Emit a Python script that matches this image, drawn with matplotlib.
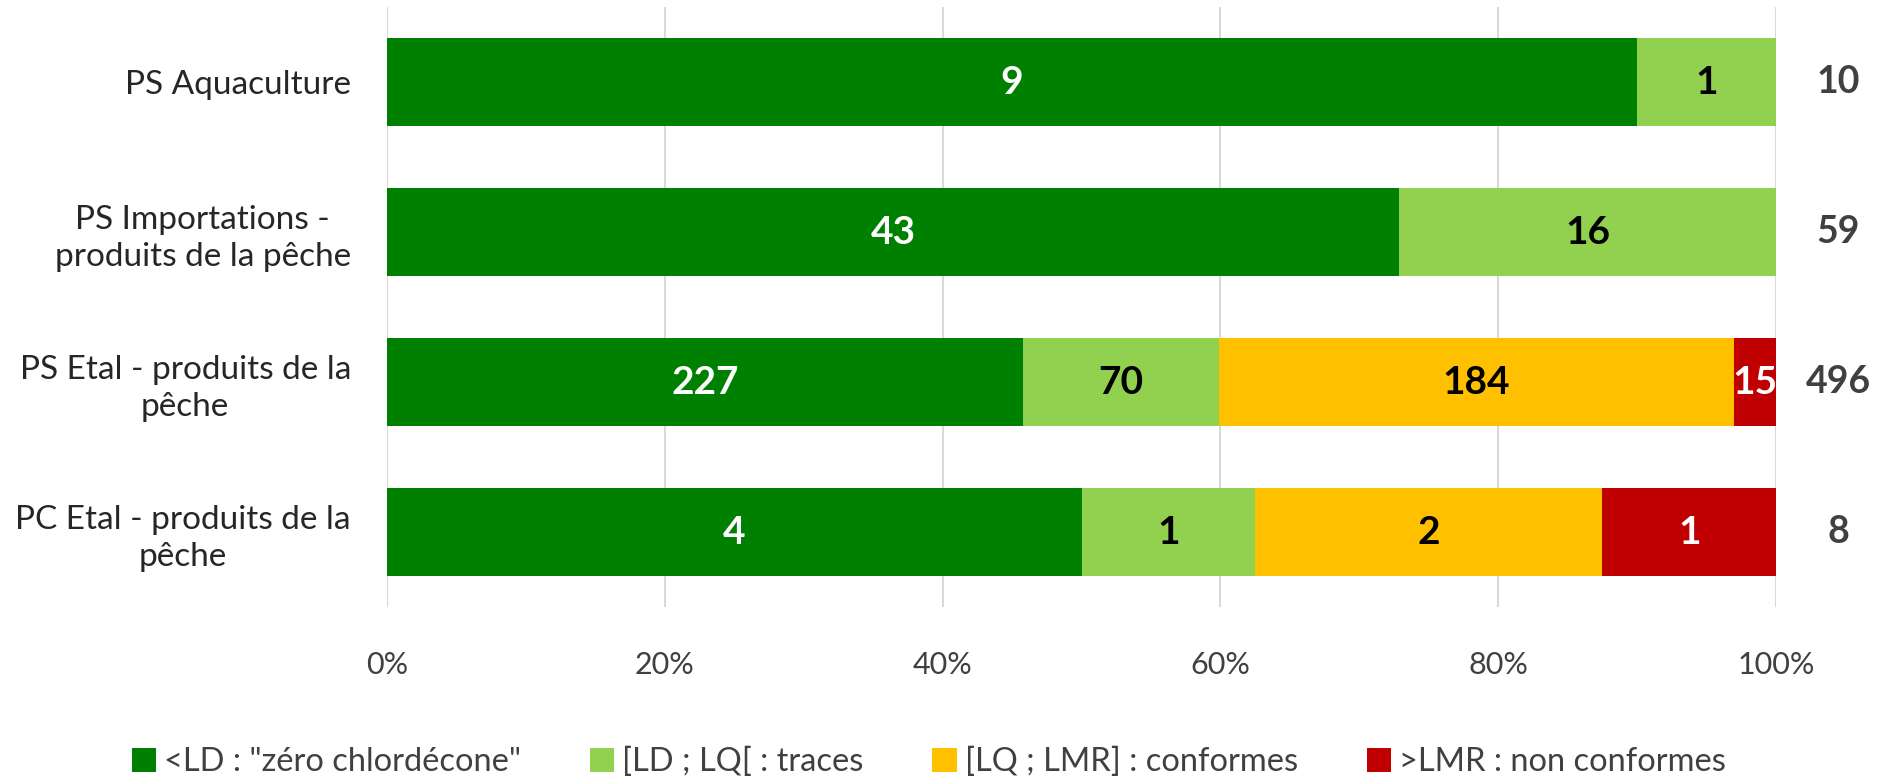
import numpy as np
import matplotlib.pyplot as plt

plt.rcParams['font.family'] = ['Lato', 'DejaVu Sans']

categories = ['PS Aquaculture', 'PS Importations -\nproduits de la pêche',
              'PS Etal - produits de la\npêche', 'PC Etal - produits de la\npêche']
series = ['<LD : "zéro chlordécone"', '[LD ; LQ[ : traces',
          '[LQ ; LMR] : conformes', '>LMR : non conformes']
ld = [9, 43, 227, 4]
traces = [1, 16, 70, 1]
conformes = [0, 0, 184, 2]
non_conformes = [0, 0, 15, 1]

colors = ['#008000', '#92D050', '#FFC000', '#C00000']
text_colors = ['white', 'black', 'black', 'white']

counts = np.array([ld, traces, conformes, non_conformes], dtype=float)
totals = counts.sum(axis=0)
shares = counts / totals

fig = plt.figure(figsize=(18.84, 7.81), dpi=100)
ax = fig.add_axes([387 / 1884, 1 - 607 / 781, (1776 - 387) / 1884, 600 / 781])

y = np.arange(len(categories))
left = np.zeros(len(categories))
for i, name in enumerate(series):
    ax.barh(y, shares[i], left=left, height=0.59, color=colors[i], label=name, zorder=2)
    for j in range(len(categories)):
        if counts[i, j] > 0:
            ax.text(left[j] + shares[i, j] / 2, y[j], f'{int(counts[i, j])}',
                    ha='center', va='center', fontsize=28, fontweight='bold',
                    color=text_colors[i], zorder=3)
    left += shares[i]

# totals on the right of each bar
for j in range(len(categories)):
    ax.text(1.045, y[j], f'{int(totals[j])}', ha='center', va='center',
            fontsize=27, fontweight='bold', color='#404040', clip_on=False)

ax.set_xlim(0, 1)
ax.set_ylim(len(categories) - 0.5, -0.5)
ax.set_yticks(y)
ax.set_yticklabels(categories, fontsize=24, color='#262626', linespacing=1.3,
                   multialignment='center')
ax.set_xticks(np.arange(0, 1.01, 0.2))
ax.set_xticklabels([f'{int(round(v * 100))}%' for v in np.arange(0, 1.01, 0.2)],
                   fontsize=22, color='#404040')
ax.tick_params(axis='both', length=0)
ax.tick_params(axis='x', pad=32)
ax.tick_params(axis='y', pad=26)
ax.grid(axis='x', color='#D9D9D9', linewidth=1.5, zorder=0)
for s in ax.spines.values():
    s.set_visible(False)

fig.legend(loc='center', bbox_to_anchor=(0.493, 0.024), ncol=4, frameon=False,
           fontsize=23.5, handlelength=0.75, handleheight=0.75, handletextpad=0.25,
           columnspacing=2.1, labelcolor='#404040')

fig.savefig('out.png', dpi=100)
